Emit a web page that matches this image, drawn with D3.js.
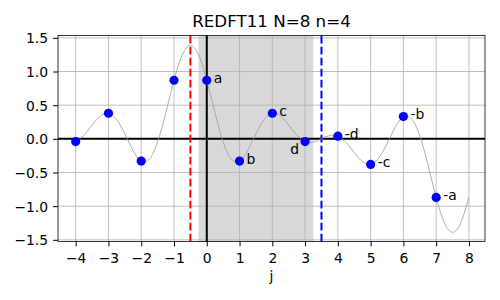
<!DOCTYPE html>
<html>
<head>
<meta charset="utf-8">
<script src="https://cdn.jsdelivr.net/npm/d3@7"></script>
<style>
	body { margin: 0; background: white; }
	svg { font-family: 'DejaVu Sans', sans-serif; }
</style>
</head>
<body>
<svg width="500" height="300"></svg>
<script>
// sampled points, j = -4 .. 7
const sampleJ = [-4, -3, -2, -1, 0, 1, 2, 3, 4, 5, 6, 7]
const sampleValue = [-0.04, 0.38, -0.33, 0.87, 0.87, -0.33, 0.38, -0.04, 0.04, -0.38, 0.33, -0.87]

// labels for j = 0 .. 7
const labelJ = [0, 1, 2, 3, 4, 5, 6, 7]
const labelNames = ['a', 'b', 'c', 'd', '-d', '-c', '-b', '-a']

// thin grey continuous curve
const curveJ = [-4, -3.75, -3.5, -3.25, -3, -2.75, -2.5, -2.25, -2, -1.75, -1.5, -1.25, -1, -0.75, -0.5, -0.25,
	0, 0.25, 0.5, 0.75, 1, 1.25, 1.5, 1.75, 2, 2.25, 2.5, 2.75, 3, 3.25, 3.5, 3.75,
	4, 4.25, 4.5, 4.75, 5, 5.25, 5.5, 5.75, 6, 6.25, 6.5, 6.75, 7, 7.25, 7.5, 7.75, 8]
const curveValue = [-0.04, 0.054, 0.204, 0.339, 0.38, 0.285, 0.073, -0.172, -0.33, -0.3, -0.045, 0.388, 0.87, 1.246, 1.388, 1.246,
	0.87, 0.388, -0.045, -0.3, -0.33, -0.172, 0.073, 0.285, 0.38, 0.339, 0.204, 0.054, -0.04, -0.05, 0, 0.05,
	0.04, -0.054, -0.204, -0.339, -0.38, -0.285, -0.073, 0.172, 0.33, 0.3, 0.045, -0.388, -0.87, -1.246, -1.388, -1.246, -0.87]

const xTicks = [-4, -3, -2, -1, 0, 1, 2, 3, 4, 5, 6, 7, 8]
const yTicks = [-1.5, -1.0, -0.5, 0.0, 0.5, 1.0, 1.5]

const redLineJ = -0.5
const blueLineJ = 3.5
const shadeRange = [-0.25, 3.25]

const plotLeft = 58, plotRight = 485, plotTop = 35.5, plotBottom = 241.5

let xScale = d3.scaleLinear()
	.domain([-4.54, 8.49])
	.range([plotLeft, plotRight])

let yScale = d3.scaleLinear()
	.domain([-1.525, 1.535])
	.range([plotBottom, plotTop])

let svg = d3.select('svg')
let minus = v => String(v).replace('-', '\u2212')

// shaded span
svg.append('rect')
	.attr('x', xScale(shadeRange[0]))
	.attr('y', plotTop)
	.attr('width', xScale(shadeRange[1]) - xScale(shadeRange[0]))
	.attr('height', plotBottom - plotTop)
	.attr('fill', '#d9d9d9')

// grid
let grid = svg.append('g').attr('id', 'grid')
grid.selectAll('.gx')
	.data(xTicks)
	.enter()
	.append('line')
	.attr('x1', d => xScale(d))
	.attr('x2', d => xScale(d))
	.attr('y1', plotTop)
	.attr('y2', plotBottom)
grid.selectAll('.gy')
	.data(yTicks)
	.enter()
	.append('line')
	.attr('y1', d => yScale(d))
	.attr('y2', d => yScale(d))
	.attr('x1', plotLeft)
	.attr('x2', plotRight)
grid.selectAll('line')
	.attr('stroke', '#b0b0b0')
	.attr('stroke-width', 0.8)

// black zero lines
svg.append('line')
	.attr('x1', plotLeft).attr('x2', plotRight)
	.attr('y1', yScale(0)).attr('y2', yScale(0))
	.attr('stroke', 'black')
	.attr('stroke-width', 2)
svg.append('line')
	.attr('x1', xScale(0)).attr('x2', xScale(0))
	.attr('y1', plotBottom).attr('y2', plotTop)
	.attr('stroke', 'black')
	.attr('stroke-width', 2)

// dashed markers
svg.selectAll('.vdash')
	.data([[redLineJ, 'red'], [blueLineJ, 'blue']])
	.enter()
	.append('line')
	.attr('x1', d => xScale(d[0]))
	.attr('x2', d => xScale(d[0]))
	.attr('y1', plotBottom)
	.attr('y2', plotTop)
	.attr('stroke', d => d[1])
	.attr('stroke-width', 2)
	.attr('stroke-dasharray', '7.7,3.3')

// grey curve
let line = d3.line()
	.x((d, i) => xScale(curveJ[i]))
	.y(d => yScale(d))
	.curve(d3.curveNatural)
svg.append('path')
	.datum(curveValue)
	.attr('d', line)
	.attr('fill', 'none')
	.attr('stroke', '#999999')
	.attr('stroke-width', 0.8)

// points
svg.append('g')
	.attr('id', 'circles')
	.selectAll('circle')
	.data(sampleJ)
	.enter()
	.append('circle')
	.attr('cx', d => xScale(d))
	.attr('cy', (d, i) => yScale(sampleValue[i]))
	.attr('r', 4.6)
	.attr('fill', '#0000ff')

// labels
svg.append('g')
	.attr('id', 'labels')
	.selectAll('text')
	.data(labelJ)
	.enter()
	.append('text')
	.attr('x', (d, i) => labelNames[i] === 'd' ? xScale(d) - 6 : xScale(d) + 7)
	.attr('y', (d, i) => {
		let v = sampleValue[sampleJ.indexOf(d)]
		return labelNames[i] === 'd' ? yScale(v) + 12 : yScale(v) + 2.5
	})
	.attr('text-anchor', (d, i) => labelNames[i] === 'd' ? 'end' : 'start')
	.attr('font-size', '13.9px')
	.text((d, i) => labelNames[i])

// frame
svg.append('rect')
	.attr('x', plotLeft)
	.attr('y', plotTop)
	.attr('width', plotRight - plotLeft)
	.attr('height', plotBottom - plotTop)
	.attr('fill', 'none')
	.attr('stroke', 'black')
	.attr('stroke-width', 0.8)

// axes
let bottomAxis = d3.axisBottom(xScale)
	.tickValues(xTicks)
	.tickSize(4.9)
	.tickSizeOuter(0)
	.tickFormat(minus)
let bottomAxisG = svg.append('g')
	.attr('transform', `translate(0, ${plotBottom})`)
	.call(bottomAxis)
bottomAxisG.selectAll('text')
	.attr('y', 21)
	.attr('dy', null)

let leftAxis = d3.axisLeft(yScale)
	.tickValues(yTicks)
	.tickSize(4.9)
	.tickSizeOuter(0)
	.tickPadding(5)
	.tickFormat(d => minus(d3.format('.1f')(d)))
let leftAxisG = svg.append('g')
	.attr('transform', `translate(${plotLeft}, 0)`)
	.call(leftAxis)
leftAxisG.selectAll('text')
	.attr('dy', '0.36em')

svg.selectAll('.domain').remove()
svg.selectAll('.tick line').attr('stroke', 'black').attr('stroke-width', 1)
svg.selectAll('.tick text')
	.attr('font-size', '13.9px')
	.attr('font-family', 'DejaVu Sans')
	.attr('fill', 'black')

// title and x label
svg.append('text')
	.attr('x', (plotLeft + plotRight) / 2)
	.attr('y', 27)
	.attr('text-anchor', 'middle')
	.attr('font-size', '16.7px')
	.text('REDFT11 N=8 n=4')

svg.append('text')
	.attr('x', (plotLeft + plotRight) / 2)
	.attr('y', 280.5)
	.attr('text-anchor', 'middle')
	.attr('font-size', '13.9px')
	.text('j')
</script>
</body>
</html>
